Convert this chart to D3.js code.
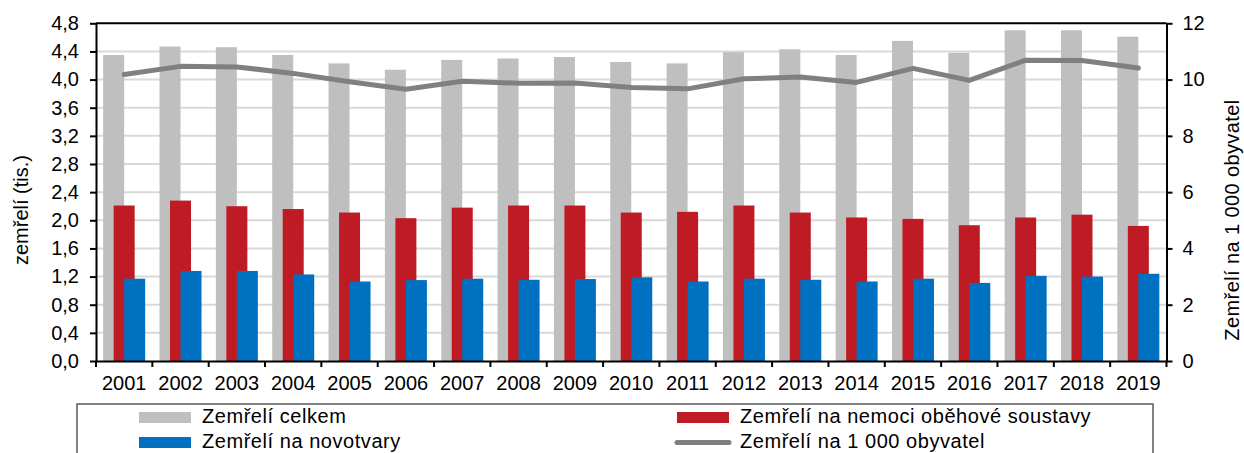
<!DOCTYPE html>
<html>
<head>
<meta charset="utf-8">
<script src="https://cdn.jsdelivr.net/npm/d3@7"></script>
<style>
	body { margin: 0; background: #fff; }
	svg { font-family: "Liberation Sans", Arial, sans-serif; }
	.grid line { stroke: #d9d9d9; stroke-width: 2; }
	.axis path, .axis line { stroke: #000; stroke-width: 2; }
	.axis text { font-size: 20px; fill: #000; }
</style>
</head>
<body>
<svg id="chart" width="1244" height="453"></svg>
<script>
const years = ["2001", "2002", "2003", "2004", "2005", "2006", "2007", "2008", "2009", "2010",
	"2011", "2012", "2013", "2014", "2015", "2016", "2017", "2018", "2019"];

// thousands of deaths
const deathsTotal = [4.35, 4.47, 4.46, 4.35, 4.23, 4.14, 4.28, 4.30, 4.32, 4.25,
	4.23, 4.39, 4.43, 4.35, 4.55, 4.38, 4.70, 4.70, 4.61];
const deathsCirculatory = [2.21, 2.28, 2.20, 2.16, 2.11, 2.03, 2.18, 2.21, 2.21, 2.11,
	2.12, 2.21, 2.11, 2.04, 2.02, 1.93, 2.04, 2.08, 1.92];
const deathsCancer = [1.17, 1.28, 1.28, 1.23, 1.13, 1.15, 1.17, 1.155, 1.165, 1.19,
	1.13, 1.17, 1.155, 1.13, 1.17, 1.11, 1.21, 1.20, 1.24];

// per 1 000 inhabitants
const deathsPer1000 = [10.18, 10.47, 10.45, 10.22, 9.92, 9.66, 9.94, 9.87, 9.88, 9.72,
	9.67, 10.03, 10.09, 9.90, 10.40, 9.97, 10.69, 10.68, 10.41];

const leftTicks = [0, 0.4, 0.8, 1.2, 1.6, 2.0, 2.4, 2.8, 3.2, 3.6, 4.0, 4.4, 4.8];
const rightTicks = [0, 2, 4, 6, 8, 10, 12];

const seriesNames = ["Zemřelí celkem", "Zemřelí na nemoci oběhové soustavy",
	"Zemřelí na novotvary", "Zemřelí na 1 000 obyvatel"];
const colors = ["#bfbfbf", "#be1b24", "#0070c0", "#808080"];

class DeathsChart {
	constructor() {
		this.svg = d3.select("svg#chart");
		this.bounds = {
			minX: 96,
			maxX: 1166.5,
			minY: 23.3,
			maxY: 361,
		};
		this.barWidth = 21;
		this.fmt = d => d3.format(".1f")(d).replace(".", ",");

		this.updateScales();
		this.drawGrid();
		this.drawBars();
		this.drawLine();
		this.drawAxes();
		this.drawLegend();
	}

	updateScales() {
		this.scaleX = d3.scaleBand().domain(years).range([this.bounds.minX, this.bounds.maxX]).padding(0);
		this.scaleY = d3.scaleLinear().domain([0, 4.8]).range([this.bounds.maxY, this.bounds.minY]);
		this.scaleY2 = d3.scaleLinear().domain([0, 12]).range([this.bounds.maxY, this.bounds.minY]);
	}

	drawGrid() {
		this.svg.append("g")
			.classed("grid", true)
			.selectAll("line")
			.data(leftTicks.slice(1, -1))
			.join("line")
			.attr("x1", this.bounds.minX)
			.attr("x2", this.bounds.maxX)
			.attr("y1", d => this.scaleY(d))
			.attr("y2", d => this.scaleY(d));
	}

	/*
	 * three overlapping bar series, grey left, red centred, blue right
	 */
	drawBars() {
		let w = this.barWidth;
		let mid = y => this.scaleX(y) + this.scaleX.bandwidth() / 2;
		let series = [
			{ values: deathsTotal, color: colors[0], offset: -w },
			{ values: deathsCirculatory, color: colors[1], offset: -w / 2 },
			{ values: deathsCancer, color: colors[2], offset: 0 },
		];
		this.svg.append("g")
			.selectAll("g")
			.data(series)
			.join("g")
			.attr("fill", s => s.color)
			.selectAll("rect")
			.data(s => s.values.map((v, i) => ({ year: years[i], v: v, offset: s.offset })))
			.join("rect")
			.attr("x", d => mid(d.year) + d.offset)
			.attr("width", w)
			.attr("y", d => this.scaleY(d.v))
			.attr("height", d => this.bounds.maxY - this.scaleY(d.v));
	}

	drawLine() {
		let line = d3.line()
			.x((_, i) => this.scaleX(years[i]) + this.scaleX.bandwidth() / 2)
			.y(d => this.scaleY2(d));
		this.svg.append("path")
			.attr("d", line(deathsPer1000))
			.attr("fill", "none")
			.attr("stroke", colors[3])
			.attr("stroke-width", 5)
			.attr("stroke-linejoin", "round")
			.attr("stroke-linecap", "round");
	}

	drawAxes() {
		let b = this.bounds;

		// top border of plot area
		this.svg.append("line")
			.attr("x1", b.minX).attr("x2", b.maxX)
			.attr("y1", b.minY).attr("y2", b.minY)
			.attr("stroke", "#000").attr("stroke-width", 2);

		this.svg.append("g")
			.classed("axis", true)
			.attr("transform", `translate(${b.minX} 0)`)
			.call(d3.axisLeft(this.scaleY).tickValues(leftTicks).tickFormat(this.fmt).tickSize(6).tickPadding(11).tickSizeOuter(0));

		this.svg.append("g")
			.classed("axis", true)
			.attr("transform", `translate(${b.maxX} 0)`)
			.call(d3.axisRight(this.scaleY2).tickValues(rightTicks).tickSize(6).tickPadding(10).tickSizeOuter(0));

		// ticks sit between categories
		let xAxis = this.svg.append("g")
			.classed("axis", true)
			.attr("transform", `translate(0 ${b.maxY})`)
			.call(d3.axisBottom(this.scaleX).tickSize(0).tickPadding(15).tickSizeOuter(0));
		xAxis.selectAll("line.sep")
			.data(years.concat(["end"]))
			.join("line")
			.classed("sep", true)
			.attr("x1", (d, i) => i < years.length ? this.scaleX(d) : b.maxX)
			.attr("x2", (d, i) => i < years.length ? this.scaleX(d) : b.maxX)
			.attr("y1", 0)
			.attr("y2", 6);

		this.svg.append("text")
			.attr("transform", "translate(28 210) rotate(-90)")
			.attr("text-anchor", "middle")
			.attr("font-size", 20)
			.text("zemřelí (tis.)");

		this.svg.append("text")
			.attr("transform", "translate(1239 220) rotate(-90)")
			.attr("text-anchor", "middle")
			.attr("font-size", 20)
			.attr("letter-spacing", 0.4)
			.text("Zemřelí na 1 000 obyvatel");
	}

	drawLegend() {
		let g = this.svg.append("g");
		g.append("rect")
			.attr("x", 77).attr("y", 404)
			.attr("width", 1076).attr("height", 60)
			.attr("fill", "#fff").attr("stroke", "#595959").attr("stroke-width", 1.5);

		let items = [
			{ name: seriesNames[0], color: colors[0], x: 139, y: 412, kind: "bar" },
			{ name: seriesNames[1], color: colors[1], x: 677, y: 412, kind: "bar" },
			{ name: seriesNames[2], color: colors[2], x: 139, y: 437, kind: "bar" },
			{ name: seriesNames[3], color: colors[3], x: 677, y: 437, kind: "line" },
		];
		let item = g.selectAll("g.item")
			.data(items)
			.join("g")
			.classed("item", true)
			.attr("transform", d => `translate(${d.x} ${d.y})`);
		item.filter(d => d.kind === "bar")
			.append("rect")
			.attr("width", 52).attr("height", 11)
			.attr("fill", d => d.color);
		item.filter(d => d.kind === "line")
			.append("line")
			.attr("x1", 0).attr("x2", 52)
			.attr("y1", 5.5).attr("y2", 5.5)
			.attr("stroke", d => d.color)
			.attr("stroke-width", 5)
			.attr("stroke-linecap", "round");
		item.append("text")
			.attr("x", 63)
			.attr("y", 11)
			.attr("font-size", 20)
			.attr("letter-spacing", 0.55)
			.text(d => d.name);
	}
}

new DeathsChart();
</script>
</body>
</html>
